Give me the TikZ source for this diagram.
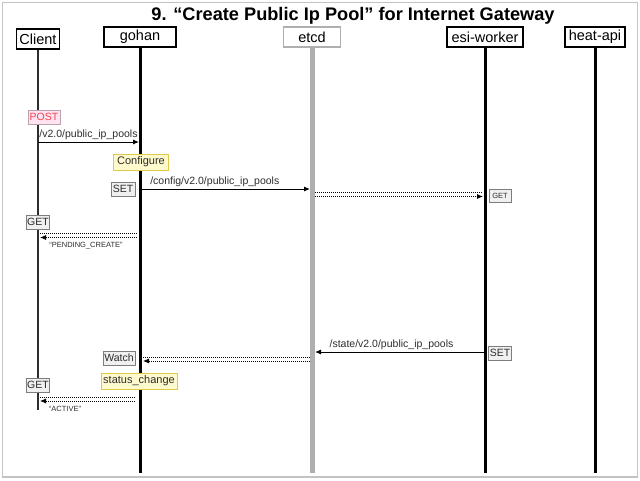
\documentclass[tikz,border=0pt]{standalone}
\usepackage{fontspec}
\setmainfont{Liberation Sans}
\usetikzlibrary{arrows.meta}
\definecolor{FrameGrey}{RGB}{195,195,195}
\definecolor{EtcdGrey}{RGB}{175,175,175}
\definecolor{PostRed}{RGB}{240,70,85}
\definecolor{PostPink}{RGB}{253,228,240}
\definecolor{PostEdge}{RGB}{190,160,175}
\definecolor{NoteYellow}{RGB}{255,250,205}
\definecolor{NoteEdge}{RGB}{225,200,70}
\definecolor{TagGrey}{RGB}{240,240,240}
\definecolor{TagEdge}{RGB}{125,125,125}
\definecolor{TextGrey}{RGB}{45,45,45}
\tikzstyle{actor} = [rectangle, draw=black, line width=1.2pt, minimum height=20pt, inner sep=1pt, text centered, font=\fontsize{14.5}{16}\selectfont]
\tikzstyle{lifeline} = [line width=3pt]
\tikzstyle{tag} = [rectangle, draw=TagEdge, fill=TagGrey, line width=0.8pt, minimum height=14pt, inner sep=1pt, text=TextGrey, font=\fontsize{10.5}{12}\selectfont]
\tikzstyle{note} = [rectangle, draw=NoteEdge, fill=NoteYellow, line width=1pt, minimum height=16pt, inner sep=2pt, text=TextGrey, font=\fontsize{11}{13}\selectfont]
\tikzstyle{path} = [text=TextGrey, inner sep=1pt, font=\fontsize{10.5}{12}\selectfont]
\tikzstyle{state} = [text=TextGrey, inner sep=1pt, font=\fontsize{7.5}{9}\selectfont]
\tikzstyle{msg} = [line width=0.9pt, -{Latex[length=6pt,width=5pt]}]
\tikzstyle{reply} = [line width=0.8pt, dash pattern=on 1pt off 1pt, -{Latex[length=6pt,width=5pt]},
  preaction={draw, arrows=-, line width=0.8pt, dash pattern=on 1pt off 1pt, transform canvas={yshift=4pt}}]
\begin{document}
\begin{tikzpicture}[x=1pt, y=-1pt]
\useasboundingbox (0,0) rectangle (640,480);
\draw[FrameGrey, line width=1.5pt] (2.5,2.5) rectangle (637.5,477);

% Title
\node (title) [font=\fontsize{18.2}{20}\bfseries] at (353,15.5) {9. “Create Public Ip Pool” for Internet Gateway};

% Actors
\node (client) [actor, minimum width=43pt] at (38,39) {Client};
\node (gohan) [actor, minimum width=72pt] at (140,37) {gohan};
\node (etcd) [actor, draw=EtcdGrey, minimum width=57pt] at (312,37) {etcd};
\node (esi) [actor, minimum width=76pt] at (485,37) {esi-worker};
\node (heat) [actor, minimum width=60pt] at (595,37) {heat-api};

% Lifelines
\coordinate (client-end) at (38,410);
\coordinate (gohan-end) at (140,473);
\coordinate (etcd-end) at (312,473);
\coordinate (esi-end) at (485,473);
\coordinate (heat-end) at (595,473);
\draw [line width=1.5pt, TextGrey] (client) -- (client-end);
\draw [lifeline] (gohan) -- (gohan-end);
\draw [lifeline, line width=5pt, EtcdGrey] (etcd) -- (etcd-end);
\draw [lifeline] (esi) -- (esi-end);
\draw [lifeline] (heat) -- (heat-end);

% Create request
\node (post) [tag, draw=PostEdge, fill=PostPink, text=PostRed, minimum width=32pt] at (44,117) {POST};
\coordinate (m1a) at (38,142);
\coordinate (m1b) at (139,142);
\draw [msg] (m1a) -- node[path, above=0.5pt] {/v2.0/public\_ip\_pools} (m1b);
\node (configure) [note, minimum width=55pt] at (141,162) {Configure};

% Write config
\node (set1) [tag, minimum width=24pt] at (123,189) {SET};
\coordinate (m2a) at (140,189);
\coordinate (m2b) at (310,189);
\draw [msg] (m2a) -- node[path, above=0.5pt, pos=0.44] {/config/v2.0/public\_ip\_pools} (m2b);
\coordinate (r1a) at (315,196.5);
\coordinate (r1b) at (483,196.5);
\draw [reply] (r1a) -- (r1b);
\node (get1) [tag, minimum width=22pt, minimum height=13pt, font=\fontsize{7.5}{9}\selectfont] at (500,196) {GET};

% Pending state
\node (get2) [tag, minimum width=23pt] at (38,222) {GET};
\coordinate (r2a) at (137,237.5);
\coordinate (r2b) at (40,237.5);
\draw [reply] (r2a) -- (r2b);
\node (pending) [state] at (86,245.5) {“PENDING\_CREATE”};

% Write state
\node (set2) [tag, minimum width=23pt] at (500,353) {SET};
\coordinate (m3a) at (485,352);
\coordinate (m3b) at (315,352);
\draw [msg] (m3a) -- node[path, above=0.5pt, pos=0.55] {/state/v2.0/public\_ip\_pools} (m3b);
\coordinate (r3a) at (310,361);
\coordinate (r3b) at (143,361);
\draw [reply] (r3a) -- (r3b);
\node (watch) [tag, minimum width=32pt] at (119,358) {Watch};
\node (status) [note, minimum width=76pt] at (139,381) {status\_change};

% Active state
\node (get3) [tag, minimum width=23pt] at (38,385) {GET};
\coordinate (r4a) at (135,401);
\coordinate (r4b) at (40,401);
\draw [reply] (r4a) -- (r4b);
\node (active) [state] at (65,408.5) {“ACTIVE”};

\end{tikzpicture}
\end{document}
